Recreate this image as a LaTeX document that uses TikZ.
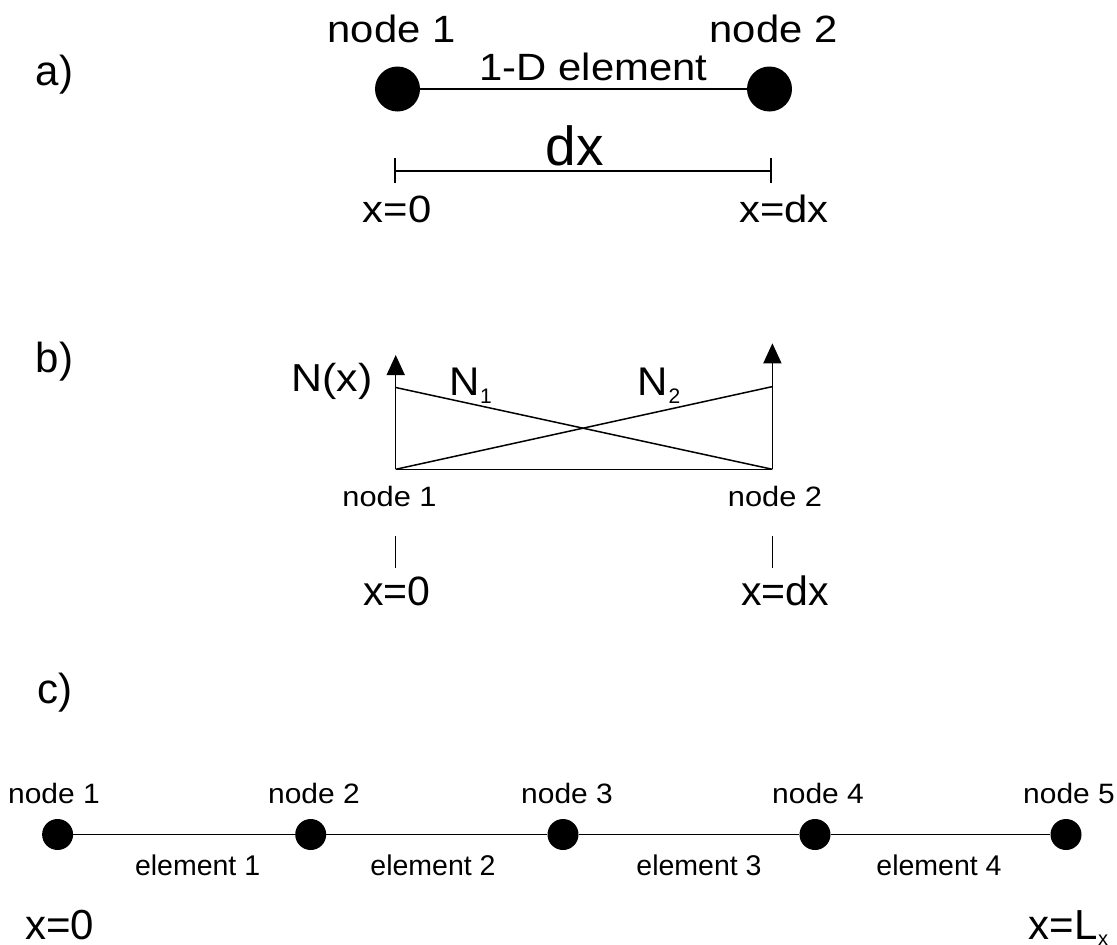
\documentclass[tikz,border=0pt]{standalone}
\usepackage{fontspec}
\setmainfont{Liberation Sans}
\usetikzlibrary{arrows.meta}
\newcommand{\wdr}[2]{\scalebox{#1}[1]{#2}}
\begin{document}
\begin{tikzpicture}[x=1pt,y=-1pt,
  txt/.style={inner sep=0, anchor=base},
  fa/.style={txt, font=\fontsize{38}{46}\selectfont},
  fl/.style={txt, font=\fontsize{42}{50}\selectfont},
  fx/.style={txt, font=\fontsize{41}{49}\selectfont},
  fs/.style={txt, font=\fontsize{28}{34}\selectfont},
  fe/.style={txt, font=\fontsize{28.5}{34}\selectfont},
  fsub/.style={inner sep=0, anchor=base west, font=\fontsize{21}{25}\selectfont},
  bigdot/.style={circle, fill=black, draw=none, inner sep=0, minimum size=45pt},
  smldot/.style={circle, fill=black, draw=none, inner sep=0, minimum size=31pt},
  ln/.style={line width=1.5pt},
  dim/.style={line width=2pt},
  arr/.style={line width=1.5pt, -{Triangle[length=20pt,width=18pt]}}]
\useasboundingbox (0,0) rectangle (1117,945);
% panel labels
\node[fl] (la) at (54.5,85) {a)};
\node[fl] (lb) at (54.5,372) {b)};
\node[fl] (lc) at (54.5,703) {c)};
% ---- a)
\node[bigdot] (a1) at (397.5,89) {};
\node[bigdot] (a2) at (769.5,89) {};
\draw[ln] (a1) -- (a2);
\node[fa] (an1) at (391.5,42.7) {\wdr{1.1}{node 1}};
\node[fa] (an2) at (773.5,42.7) {\wdr{1.1}{node 2}};
\node[fa] (ael) at (593.5,80) {\wdr{1.1}{1-D element}};
\coordinate (d1t) at (395,158); \coordinate (d1b) at (395,183);
\coordinate (d2t) at (771,158); \coordinate (d2b) at (771,183);
\coordinate (d1) at (395,170.7); \coordinate (d2) at (771,170.7);
\draw[dim] (d1t) -- (d1b);
\draw[dim] (d2t) -- (d2b);
\draw[dim] (d1) -- (d2);
\node[txt, font=\fontsize{55}{62}\selectfont] (adx) at (575,165) {dx};
\node[fa] (ax0) at (397,222) {\wdr{1.1}{x=0}};
\node[fa] (axd) at (784,222) {\wdr{1.1}{x=dx}};
% ---- b)
\coordinate (bl) at (395.7,469.3); \coordinate (br) at (772.4,469.3);
\coordinate (tl) at (395.7,387.5); \coordinate (tr) at (772.4,386.6);
\coordinate (al) at (395.7,355); \coordinate (ar) at (772.4,343.3);
\draw[ln] (bl) -- (br);
\draw[arr] (bl) -- (al);
\draw[arr] (br) -- (ar);
\draw[ln] (tl) -- (br);
\draw[ln] (bl) -- (tr);
\node[txt, font=\fontsize{39}{47}\selectfont] (nx) at (332,391.7) {\wdr{1.1}{N(x)}};
\node[inner sep=0, anchor=base west, font=\fontsize{40}{48}\selectfont] (n1) at (449,395) {\wdr{1.05}{N}};
\node[fsub] (n1s) at (480,403) {1};
\node[inner sep=0, anchor=base west, font=\fontsize{40}{48}\selectfont] (n2) at (637,395) {\wdr{1.05}{N}};
\node[fsub] (n2s) at (668.5,403) {2};
\node[fs] (bn1) at (389.5,506) {\wdr{1.1}{node 1}};
\node[fs] (bn2) at (775,506) {\wdr{1.1}{node 2}};
\coordinate (t1a) at (395.7,536); \coordinate (t1b) at (395.7,568);
\coordinate (t2a) at (772.4,536); \coordinate (t2b) at (772.4,568);
\draw[ln] (t1a) -- (t1b);
\draw[ln] (t2a) -- (t2b);
\node[fx] (bx0) at (397,605) {x=0};
\node[fx] (bxd) at (785,605) {x=dx};
% ---- c)
\node[smldot] (c1) at (57.6,834.5) {};
\node[smldot] (c2) at (310.7,834.5) {};
\node[smldot] (c3) at (563,834.5) {};
\node[smldot] (c4) at (815,834.5) {};
\node[smldot] (c5) at (1066,834.5) {};
\draw[ln] (c1) -- (c2);
\draw[ln] (c2) -- (c3);
\draw[ln] (c3) -- (c4);
\draw[ln] (c4) -- (c5);
\node[fs] (cn1) at (54,803) {\wdr{1.07}{node 1}};
\node[fs] (cn2) at (314,803) {\wdr{1.07}{node 2}};
\node[fs] (cn3) at (567,803) {\wdr{1.07}{node 3}};
\node[fs] (cn4) at (818,803) {\wdr{1.07}{node 4}};
\node[fs] (cn5) at (1069,803) {\wdr{1.07}{node 5}};
\node[fe] (ce1) at (197.6,875) {element 1};
\node[fe] (ce2) at (433,875) {element 2};
\node[fe] (ce3) at (699,875) {element 3};
\node[fe] (ce4) at (939,875) {element 4};
\node[fl] (cx0) at (59.5,939) {x=0};
\node[inner sep=0, anchor=base west, font=\fontsize{42}{50}\selectfont] (cxl) at (1028.5,939) {x=L};
\node[inner sep=0, anchor=base west, font=\fontsize{20}{24}\selectfont] (cxls) at (1098,945) {x};
\end{tikzpicture}
\end{document}
